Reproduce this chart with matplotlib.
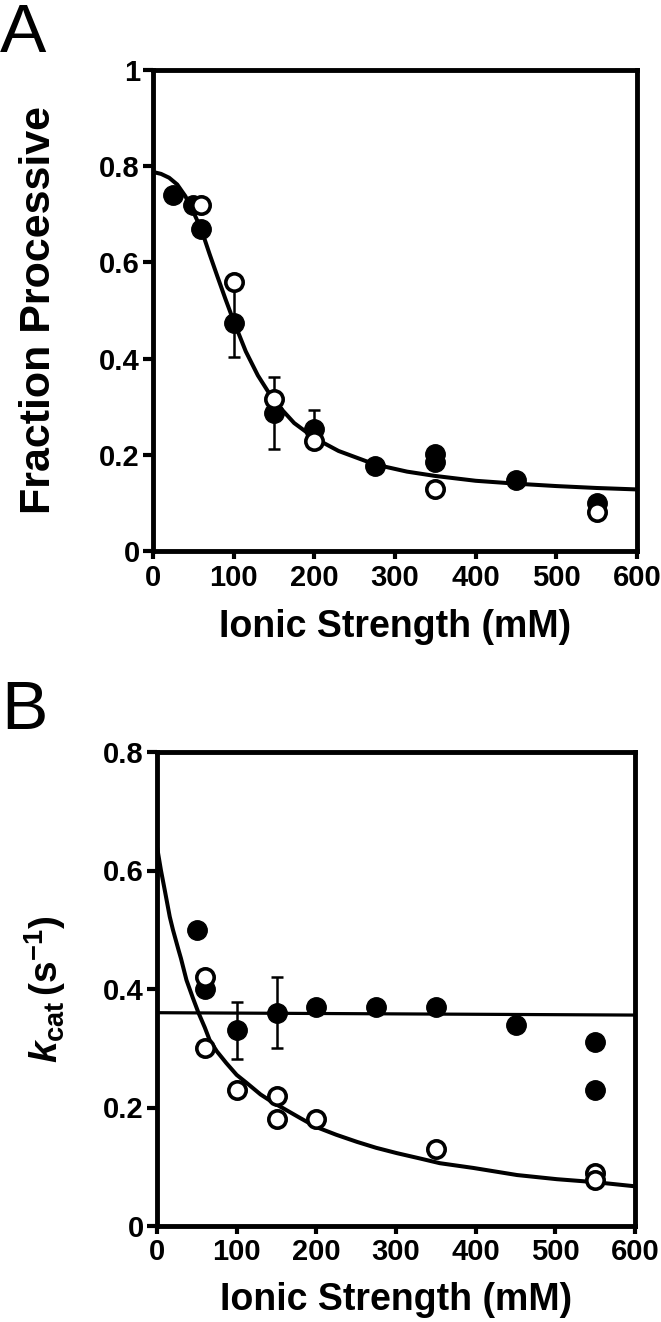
import matplotlib
matplotlib.use("Agg")
import matplotlib.pyplot as plt

plt.rcParams['font.family'] = ['Liberation Sans', 'DejaVu Sans']
plt.rcParams['mathtext.fontset'] = 'custom'
plt.rcParams['mathtext.rm'] = 'Liberation Sans:bold'
plt.rcParams['mathtext.it'] = 'Liberation Sans:bold:italic'
plt.rcParams['mathtext.bf'] = 'Liberation Sans:bold'

# ---------------- Panel A data ----------------
a_filled_x = [25, 50, 60, 100, 150, 200, 275, 350, 350, 450, 550]
a_filled_y = [0.74, 0.72, 0.67, 0.474, 0.287, 0.254, 0.177, 0.202, 0.185, 0.147, 0.10]
a_err_x = [100, 150, 200]
a_err_y = [0.474, 0.287, 0.254]
a_err = [0.07, 0.075, 0.04]
a_open_x = [60, 100, 150, 200, 350, 550]
a_open_y = [0.72, 0.56, 0.316, 0.229, 0.129, 0.081]
a_fit_x = [0, 10, 20, 30, 40, 50, 60, 70, 80, 90, 100, 115, 130, 150, 175, 200,
           230, 275, 315, 350, 400, 450, 500, 550, 600]
a_fit_y = [0.788, 0.784, 0.776, 0.762, 0.738, 0.705, 0.668, 0.618, 0.570, 0.523,
           0.478, 0.415, 0.365, 0.312, 0.266, 0.235, 0.208, 0.180, 0.165, 0.156,
           0.146, 0.140, 0.135, 0.131, 0.128]

# ---------------- Panel B data ----------------
b_filled_x = [50, 60, 100, 150, 200, 275, 350, 450, 550, 550]
b_filled_y = [0.50, 0.40, 0.33, 0.36, 0.37, 0.37, 0.37, 0.34, 0.31, 0.23]
b_err_x = [100, 150]
b_err_y = [0.33, 0.36]
b_err = [0.048, 0.06]
b_open_x = [60, 60, 100, 150, 150, 200, 350, 550, 550]
b_open_y = [0.42, 0.30, 0.23, 0.22, 0.18, 0.18, 0.13, 0.089, 0.078]
b_flat_x = [0, 600]
b_flat_y = [0.36, 0.356]
b_fit_x = [0, 5, 10, 16, 20, 27, 30, 37, 45, 52, 60, 66, 75, 87, 100, 113, 130,
           146, 158, 180, 200, 225, 251, 275, 301, 330, 355, 397, 452, 502, 550, 600]
b_fit_y = [0.640, 0.600, 0.565, 0.522, 0.500, 0.466, 0.452, 0.415, 0.385, 0.360,
           0.335, 0.314, 0.295, 0.275, 0.255, 0.241, 0.222, 0.208, 0.199, 0.182,
           0.167, 0.154, 0.142, 0.132, 0.123, 0.114, 0.106, 0.098, 0.086, 0.079,
           0.074, 0.067]

x_ticks = [0, 100, 200, 300, 400, 500, 600]
a_yticks = [0, 0.2, 0.4, 0.6, 0.8, 1.0]
a_yticklabels = ['0', '0.2', '0.4', '0.6', '0.8', '1']
b_yticks = [0, 0.2, 0.4, 0.6, 0.8]
b_yticklabels = ['0', '0.2', '0.4', '0.6', '0.8']

W, H = 661, 1322
fig = plt.figure(figsize=(W / 100, H / 100), dpi=100)

axA = fig.add_axes([153 / W, 1 - 551 / H, 484 / W, 481 / H])
axB = fig.add_axes([157 / W, 1 - 1226 / H, 478 / W, 474 / H])

MS = 14
TICK_FS = 21
label_font = dict(fontsize=27, fontweight='bold')


def style(ax):
    for s in ax.spines.values():
        s.set_linewidth(3.5)
    ax.tick_params(axis='both', direction='out', width=3, colors='black')
    ax.tick_params(axis='y', length=7, pad=2.5)
    ax.tick_params(axis='x', length=6, pad=3)
    for lab in ax.get_xticklabels() + ax.get_yticklabels():
        lab.set_fontsize(TICK_FS)
        lab.set_fontweight('bold')


# ---- Panel A ----
axA.plot(a_fit_x, a_fit_y, color='black', lw=2.9, zorder=2, solid_capstyle='butt')
axA.errorbar(a_err_x, a_err_y, yerr=a_err, fmt='none', ecolor='black',
             elinewidth=1.8, capsize=4.5, capthick=1.8, zorder=3)
axA.plot(a_filled_x, a_filled_y, 'o', color='black', ms=MS, zorder=4)
axA.plot(a_open_x, a_open_y, 'o', mfc='white', mec='black', mew=2.6, ms=MS - 1.5, zorder=5)
axA.set_xlim(0, 600)
axA.set_ylim(0, 1)
axA.set_xticks(x_ticks)
axA.set_xticklabels([str(v) for v in x_ticks])
axA.set_yticks(a_yticks)
axA.set_yticklabels(a_yticklabels)
style(axA)
axA.set_xlabel('Ionic Strength (mM)', **label_font)
axA.xaxis.set_label_coords(0.5, -0.158)
axA.xaxis.label.set_va('center')
axA.set_ylabel('Fraction Processive', va='center', fontsize=31, fontweight='bold')
axA.yaxis.set_label_coords(-0.235, 0.5)

# ---- Panel B ----
axB.plot(b_fit_x, b_fit_y, color='black', lw=2.9, zorder=2)
axB.plot(b_flat_x, b_flat_y, color='black', lw=2.3, zorder=2)
axB.errorbar(b_err_x, b_err_y, yerr=b_err, fmt='none', ecolor='black',
             elinewidth=1.8, capsize=4.5, capthick=1.8, zorder=3)
axB.plot(b_filled_x, b_filled_y, 'o', color='black', ms=MS, zorder=4)
axB.plot(b_open_x, b_open_y, 'o', mfc='white', mec='black', mew=2.6, ms=MS - 1.5, zorder=5)
axB.set_xlim(0, 600)
axB.set_ylim(0, 0.8)
axB.set_xticks(x_ticks)
axB.set_xticklabels([str(v) for v in x_ticks])
axB.set_yticks(b_yticks)
axB.set_yticklabels(b_yticklabels)
style(axB)
axB.set_xlabel('Ionic Strength (mM)', **label_font)
axB.xaxis.set_label_coords(0.5, -0.156)
axB.xaxis.label.set_va('center')
axB.set_ylabel(r'$k_{\mathrm{cat}}\,\mathrm{(s^{-1})}$', va='center', fontsize=28)
axB.yaxis.set_label_coords(-0.234, 0.5)

# Panel letters
fig.text(0.0, 1 - 52 / H, 'A', fontsize=50, fontweight='normal', ha='left', va='baseline')
fig.text(0.002, 1 - 729 / H, 'B', fontsize=50, fontweight='normal', ha='left', va='baseline')

fig.savefig('out.png', dpi=100)
